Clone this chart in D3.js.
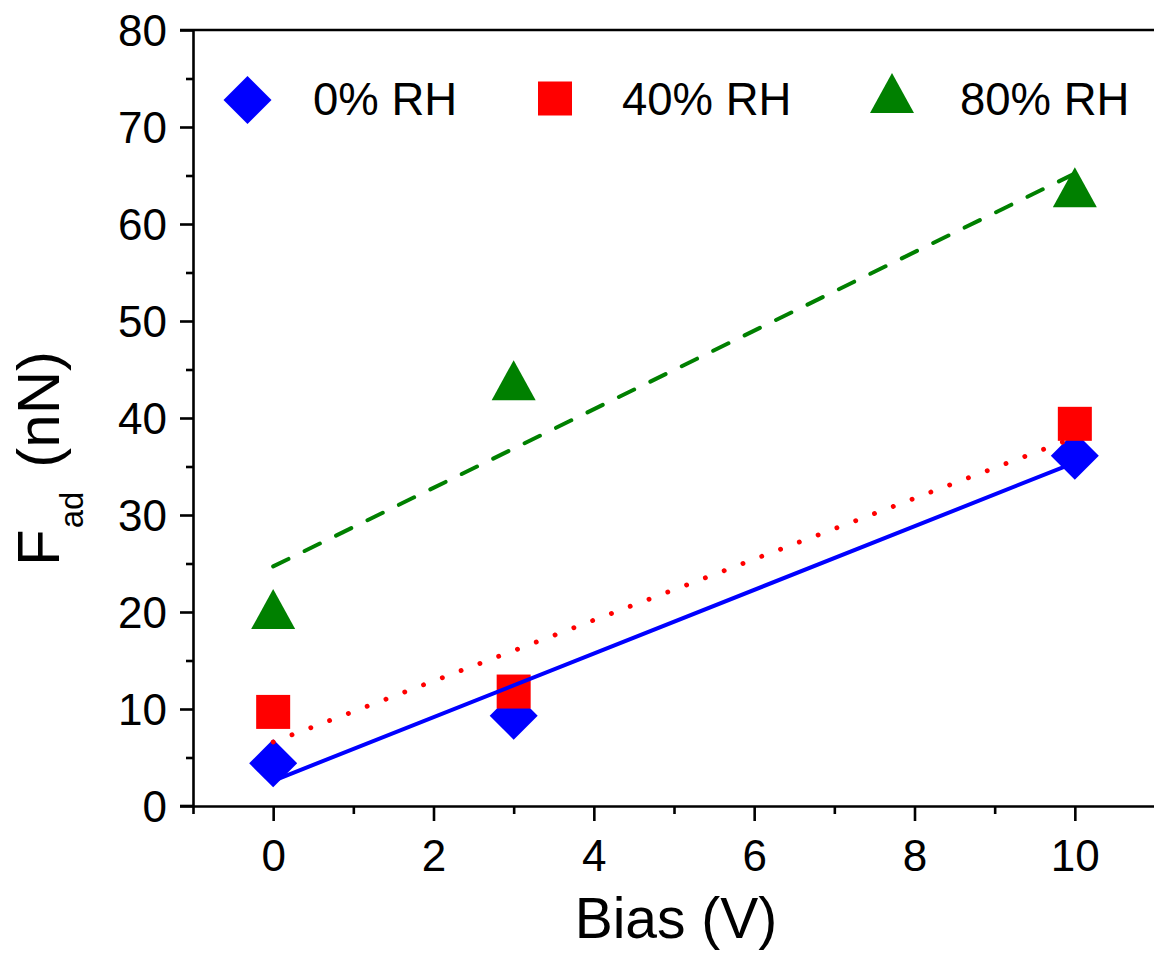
<!DOCTYPE html>
<html>
<head>
<meta charset="utf-8">
<script src="https://cdn.jsdelivr.net/npm/d3@7"></script>
<style>
  html, body { margin: 0; padding: 0; background: #fff; }
  svg { display: block; }
  text { font-family: "Liberation Sans", Arial, sans-serif; fill: #000; }
</style>
</head>
<body>
<svg id="chart" width="1154" height="955"></svg>
<script>
// Bias voltages (V) at which adhesion force was measured
const biasValues = [0, 3, 10];
// Adhesion force F_ad (nN) per relative humidity
const seriesNames = ["0% RH", "40% RH", "80% RH"];
const rh0 = [4.4, 9.3, 36.1];
const rh40 = [9.7, 11.8, 39.4];
const rh80 = [20.3, 43.9, 63.8];
// Linear fit lines, evaluated at the ends of the bias range
const fitX = [0, 10];
const fit0 = [2.6, 35.4];
const fit40 = [6.6, 38.0];
const fit80 = [24.7, 65.2];
// Axis ticks
const xTicks = [0, 2, 4, 6, 8, 10];
const xMinor = [-1, 1, 3, 5, 7, 9, 11];
const yTicks = [0, 10, 20, 30, 40, 50, 60, 70, 80];
const yMinor = [5, 15, 25, 35, 45, 55, 65, 75];

const colors = ["#0000ff", "#ff0000", "#008000"];

const svg = d3.select("#chart");
const x = d3.scaleLinear().domain([-1, 11]).range([193, 1155]);
const y = d3.scaleLinear().domain([0, 80]).range([806, 30]);

// Axes
const axisStroke = 2.6;
const gX = svg.append("g").attr("transform", `translate(0,${y(0)})`);
gX.call(d3.axisBottom(x).tickValues(xTicks).tickSize(15).tickSizeOuter(0).tickFormat(d3.format("d")));
const gXm = svg.append("g").attr("transform", `translate(0,${y(0)})`);
gXm.call(d3.axisBottom(x).tickValues(xMinor).tickSize(8).tickSizeOuter(0).tickFormat(""));
gXm.select(".domain").remove();

const gY = svg.append("g").attr("transform", `translate(${x(-1)},0)`);
gY.call(d3.axisLeft(y).tickValues(yTicks).tickSize(13).tickSizeOuter(0).tickFormat(d3.format("d")));
const gYm = svg.append("g").attr("transform", `translate(${x(-1)},0)`);
gYm.call(d3.axisLeft(y).tickValues(yMinor).tickSize(7).tickSizeOuter(0).tickFormat(""));
gYm.select(".domain").remove();

// extend bottom axis to the left past the y axis, and add the top frame line
svg.append("line")
  .attr("x1", x(-1) - 13).attr("x2", x(-1))
  .attr("y1", y(0)).attr("y2", y(0))
  .attr("stroke", "#000").attr("stroke-width", axisStroke);
svg.append("line")
  .attr("x1", x(-1) - 13).attr("x2", 1154)
  .attr("y1", y(80)).attr("y2", y(80))
  .attr("stroke", "#000").attr("stroke-width", axisStroke);

[gX, gXm, gY, gYm].forEach(g => {
  g.selectAll(".domain").attr("stroke", "#000").attr("stroke-width", axisStroke);
  g.selectAll(".tick line").attr("stroke", "#000").attr("stroke-width", axisStroke);
});
gX.selectAll(".tick text")
  .attr("font-size", 44).attr("font-family", "Liberation Sans, Arial, sans-serif")
  .attr("fill", "#000").attr("dy", 0).attr("y", 65);
gY.selectAll(".tick text")
  .attr("font-size", 44).attr("font-family", "Liberation Sans, Arial, sans-serif")
  .attr("fill", "#000").attr("x", -26).attr("dy", "0.36em");

// Marker shapes
function diamond(g) {
  return g.append("path").attr("d", "M0,-24L24,0L0,24L-24,0Z");
}
function square(g) {
  return g.append("rect").attr("x", -17).attr("y", -17).attr("width", 34).attr("height", 34);
}
function triangle(g) {
  return g.append("path").attr("d", "M0,-20L22,20L-22,20Z");
}
const shapes = [diamond, square, triangle];
const seriesData = [rh0, rh40, rh80];

// Scatter points
seriesData.forEach((vals, i) => {
  const g = svg.append("g").attr("class", "series-" + i);
  vals.forEach((v, j) => {
    const m = g.append("g").attr("transform", `translate(${x(biasValues[j])},${y(v)})`);
    shapes[i](m).attr("fill", colors[i]);
  });
});

// Fit lines drawn on top of the points
const line = d3.line().x(d => x(d[0])).y(d => y(d[1]));
const fits = [fit0, fit40, fit80];
const dashes = [null, "0.1,20", "17,18"];
const widths = [4, 4.8, 4];
fits.forEach((vals, i) => {
  const p = svg.append("path")
    .datum(fitX.map((xv, j) => [xv, vals[j]]))
    .attr("d", line)
    .attr("fill", "none")
    .attr("stroke", colors[i])
    .attr("stroke-width", widths[i])
    .attr("stroke-linecap", "round");
  if (dashes[i]) p.attr("stroke-dasharray", dashes[i]);
});

// Legend
const legendMarkerX = [247.5, 555, 892];
const legendMarkerY = [100, 98.5, 93];
const legendTextX = [313, 622, 960];
seriesNames.forEach((name, i) => {
  const m = svg.append("g").attr("transform", `translate(${legendMarkerX[i]},${legendMarkerY[i]})`);
  shapes[i](m).attr("fill", colors[i]);
  svg.append("text")
    .attr("x", legendTextX[i]).attr("y", 115)
    .attr("font-size", 45.5)
    .text(name);
});

// Axis titles
svg.append("text")
  .attr("x", 676).attr("y", 938)
  .attr("text-anchor", "middle")
  .attr("font-size", 57)
  .text("Bias (V)");

const yTitle = svg.append("text")
  .attr("transform", "translate(59,566) rotate(-90)")
  .attr("font-size", 60);
yTitle.append("tspan").text("F");
yTitle.append("tspan").attr("font-size", 33).attr("dy", 24).attr("dx", 1).text("ad");
yTitle.append("tspan").attr("dy", -24).attr("dx", 24).text("(nN)");
</script>
</body>
</html>
